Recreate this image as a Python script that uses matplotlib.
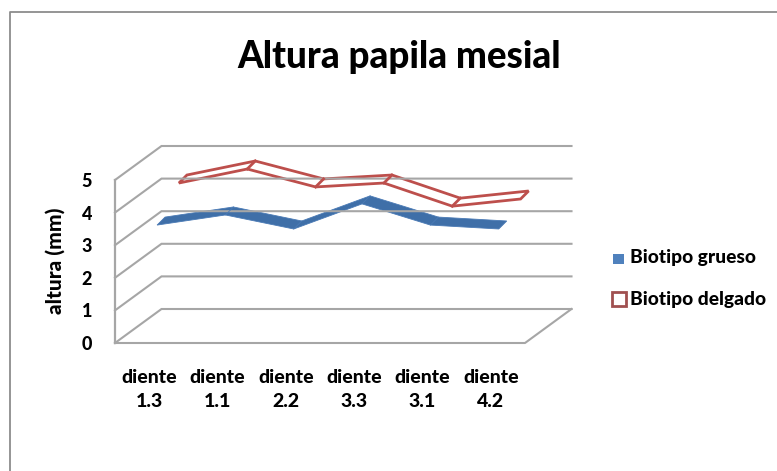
import matplotlib
matplotlib.use('Agg')
import matplotlib.pyplot as plt
from matplotlib.patches import Polygon

plt.rcParams['font.family'] = ['Lato', 'DejaVu Sans']
plt.rcParams['font.weight'] = 'black'

# Data
dientes = ['diente\n1.3', 'diente\n1.1', 'diente\n2.2', 'diente\n3.3', 'diente\n3.1', 'diente\n4.2']
grueso = [3.44, 3.75, 3.32, 4.09, 3.44, 3.32]
delgado = [4.24, 4.67, 4.12, 4.24, 3.53, 3.75]
y_ticks = [0, 1, 2, 3, 4, 5]

W, H = 777, 471
fig = plt.figure(figsize=(W / 100, H / 100), dpi=100)

# axes = front plane of the fake 3D box
left, right, bottom, top = 115, 525, 343, 180
ax = fig.add_axes([left / W, 1 - bottom / H, (right - left) / W, (bottom - top) / H])
ax.set_xlim(0, 6)
ax.set_ylim(0, 5)
ax.patch.set_visible(False)
for s in ax.spines.values():
    s.set_visible(False)

# pixel to data scale
px_x = 6 / (right - left)
px_y = 5 / (bottom - top)
# depth offset of the back wall
depth_x = 46.5 * px_x
depth_y = 34 * px_y


def ribbon(values, d0, **kw):
    # ribbon has its own thickness, 8 px across and 8 px up
    x0 = depth_x * d0
    y0 = depth_y * d0
    front = [(i + 0.5 + x0, v + y0) for i, v in enumerate(values)]
    back = [(x + 8 * px_x, y + 8 * px_y) for x, y in front]
    ax.add_patch(Polygon(front + back[::-1], closed=True, clip_on=False, **kw))
    # the folds between segments
    for f, b in zip(front[1:-1], back[1:-1]):
        ax.plot([f[0], b[0]], [f[1], b[1]], color=kw['edgecolor'], lw=kw['lw'], clip_on=False)


grid_c = '#a6a6a6'
for v in y_ticks:
    # side wall then back wall
    ax.plot([0, depth_x, 6 + depth_x], [v, v + depth_y, v + depth_y],
            color=grid_c, lw=1.5, clip_on=False, solid_joinstyle='miter')
ax.plot([0, 0], [0, 5], color=grid_c, lw=1.6, clip_on=False)
ax.plot([0, 6, 6 + depth_x], [0, 0, depth_y], color=grid_c, lw=1.5, clip_on=False)

ribbon(grueso, 0.17, facecolor='#3f6fa8', edgecolor='#4a7ab5', lw=0.6)
ribbon(delgado, 0.64, facecolor='white', edgecolor='#bd4f4c', lw=2, joinstyle='miter')

ax.set_xticks([i + 0.5 for i in range(len(dientes))])
ax.set_xticklabels(dientes, fontsize=14, color='black', linespacing=1.45)
ax.set_yticks(y_ticks)
ax.set_yticklabels([str(v) for v in y_ticks], fontsize=13, color='black')
ax.tick_params(axis='both', length=0)
ax.tick_params(axis='x', pad=19)
ax.tick_params(axis='y', pad=16.5)

fig.text(55 / W, 1 - 261 / H, 'altura (mm)', rotation=90, fontsize=15, ha='center', va='center')
fig.text(399 / W, 1 - 57 / H, 'Altura papila mesial', fontsize=26.5, ha='center', va='center')

# chart frame, runs off the right and bottom of the image
fig.add_artist(plt.Line2D([10 / W, 10 / W, 1], [0, 1 - 12 / H, 1 - 12 / H], color='#8c8c8c', lw=1.3))

# legend
fig.add_artist(plt.Rectangle((613 / W, 1 - 264 / H), 11 / W, 10 / H, facecolor='#4f81bd', edgecolor='none'))
fig.add_artist(plt.Rectangle((612 / W, 1 - 306 / H), 14 / W, 14 / H, facecolor='white', edgecolor='#a05050', lw=2))
fig.text(630 / W, 1 - 258 / H, 'Biotipo grueso', fontsize=13.8, va='center')
fig.text(630 / W, 1 - 299 / H, 'Biotipo delgado', fontsize=13.8, va='center')

fig.savefig('out.png', dpi=100)
